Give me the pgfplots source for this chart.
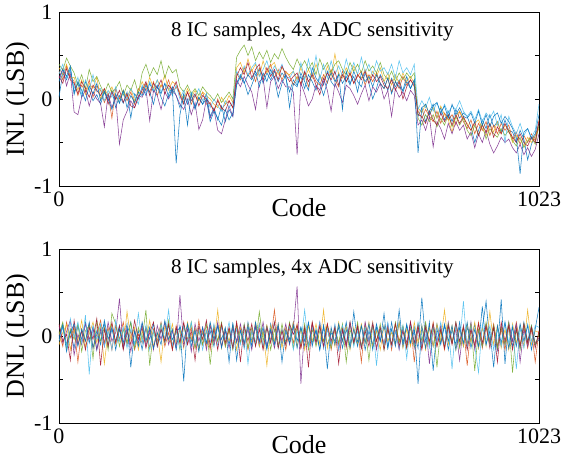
\documentclass[border=0pt]{standalone}
\usepackage{pgfplots}
\pgfplotsset{compat=1.18}
\usepackage{pgfplotstable}
\usepackage{fontspec}
\setmainfont{Liberation Serif}

\definecolor{m1}{RGB}{0,114,189}
\definecolor{m2}{RGB}{217,83,25}
\definecolor{m3}{RGB}{237,177,32}
\definecolor{m4}{RGB}{126,47,142}
\definecolor{m5}{RGB}{119,172,48}
\definecolor{m6}{RGB}{77,190,238}
\definecolor{m7}{RGB}{162,20,47}

% INL of the 8 chips, one row every 8 codes (128 rows)
\pgfplotstableread{
a b c d e f g h
0.02 0.32 0.36 0.24 0.40 0.29 0.26 0.20
0.30 0.22 0.28 0.35 0.33 0.40 0.18 0.34
0.22 0.38 0.40 0.15 0.47 0.24 0.35 0.26
0.35 0.26 0.24 0.30 0.38 0.33 0.22 0.38
0.08 0.20 0.25 -0.15 0.30 0.12 0.18 0.05
0.18 0.04 0.10 -0.18 0.16 0.25 0.06 0.20
0.02 0.16 0.22 0.02 0.28 0.05 0.20 0.10
0.20 0.08 0.05 0.10 0.12 0.22 0.12 -0.02
0.10 0.22 0.18 -0.08 0.34 0.10 0.02 0.15
-0.02 0.02 0.12 0.08 0.20 0.28 0.16 0.06
0.05 0.15 0.25 0.00 0.26 0.08 0.10 0.18
-0.06 0.10 0.00 -0.05 0.15 0.12 0.04 -0.02
0.08 -0.04 0.12 -0.32 0.06 -0.02 0.12 0.09
-0.02 0.06 0.04 0.06 0.18 0.10 -0.06 0.00
0.10 -0.22 0.14 -0.10 0.08 0.02 0.08 -0.12
-0.10 0.12 0.02 0.02 0.12 0.14 0.00 0.06
0.04 0.00 -0.04 -0.52 0.20 -0.04 0.10 -0.05
-0.05 0.10 0.10 -0.24 0.04 0.08 -0.04 0.10
0.08 -0.02 0.02 -0.14 0.16 0.00 0.06 -0.10
-0.22 0.08 0.12 -0.02 0.10 0.12 -0.08 0.04
0.06 -0.06 -0.02 -0.10 0.22 0.04 -0.10 -0.04
0.00 0.12 0.08 0.04 0.06 -0.06 0.02 0.08
0.14 0.06 0.20 0.02 0.30 0.16 0.10 0.04
0.04 0.18 0.10 0.12 0.40 0.06 0.20 0.16
0.18 0.08 0.25 -0.25 0.26 0.20 0.04 0.08
0.08 0.20 0.12 0.10 0.36 0.10 0.18 -0.06
0.16 0.04 0.22 0.04 0.28 0.22 0.12 0.14
0.02 0.16 0.14 -0.12 0.44 0.08 0.22 0.06
-0.08 0.10 0.28 0.08 0.24 0.18 0.06 0.18
0.06 0.22 0.10 0.00 0.38 0.12 0.16 0.02
0.14 0.06 0.20 0.10 0.30 0.04 0.10 0.12
0.04 0.14 0.16 0.04 0.34 0.16 0.20 -0.74
-0.10 0.06 0.08 -0.06 0.14 0.00 0.04 -0.18
0.06 -0.04 0.00 -0.12 0.08 0.10 -0.06 0.04
-0.06 0.08 0.12 0.00 0.16 -0.04 0.08 -0.30
0.04 -0.06 0.02 -0.18 0.06 0.08 -0.02 0.06
-0.12 0.04 0.10 -0.04 0.12 0.02 0.06 -0.10
0.02 -0.02 -0.02 -0.35 0.04 0.12 -0.08 0.02
-0.06 0.08 0.08 -0.24 0.14 -0.02 0.04 -0.06
0.06 -0.06 0.04 0.00 0.08 0.06 0.00 0.00
-0.20 -0.04 0.00 -0.22 0.04 -0.10 -0.06 -0.26
-0.10 -0.14 -0.06 -0.12 -0.02 0.00 -0.14 -0.14
-0.24 0.00 -0.10 -0.36 0.06 -0.08 -0.02 -0.22
-0.08 -0.12 0.02 -0.40 -0.04 -0.14 -0.10 -0.30
-0.26 -0.06 -0.06 -0.24 0.02 -0.02 -0.14 -0.12
-0.12 -0.02 0.04 -0.08 0.08 -0.10 -0.02 -0.24
-0.20 -0.10 -0.04 -0.20 0.00 -0.04 -0.10 -0.16
0.18 0.30 0.36 0.22 0.48 0.32 0.26 0.16
0.28 0.22 0.42 0.14 0.56 0.24 0.36 0.26
0.20 0.36 0.30 0.26 0.62 0.38 0.28 0.18
0.05 0.26 0.46 0.16 0.50 0.28 0.42 0.28
0.16 0.34 0.32 0.08 0.60 0.36 0.24 0.22
0.28 0.20 0.40 -0.12 0.44 0.42 0.34 0.32
0.34 0.36 0.26 0.20 0.54 0.26 0.40 0.14
0.18 0.26 0.44 0.24 0.46 0.34 0.22 0.30
0.30 0.32 0.30 -0.10 0.56 0.44 0.36 0.20
0.22 0.40 0.38 0.20 0.42 0.28 0.26 0.34
0.32 0.24 0.42 0.26 0.52 0.38 0.34 0.24
0.20 0.34 0.28 0.12 0.46 0.30 0.22 0.02
0.30 0.22 0.36 0.22 0.58 0.40 0.38 0.18
0.24 0.32 0.30 0.14 0.48 0.26 0.28 0.28
0.08 0.26 0.28 0.14 0.40 0.24 0.20 -0.10
0.22 0.16 0.32 0.08 0.34 0.32 0.26 0.18
0.16 0.26 0.22 -0.64 0.46 0.18 0.30 0.14
0.26 0.18 0.36 0.18 0.36 0.42 0.16 0.30
0.12 0.30 0.24 0.06 0.44 0.22 0.32 0.20
0.28 0.14 0.34 -0.08 0.34 0.46 0.20 0.10
0.20 0.30 0.24 0.00 0.42 0.26 0.28 0.36
0.10 0.20 0.40 0.16 0.28 0.50 0.16 0.24
0.28 0.16 0.26 0.10 0.46 0.22 0.05 0.18
0.16 0.28 0.22 0.24 0.34 0.40 0.20 0.04
0.32 0.18 0.38 0.10 0.42 0.24 0.30 0.20
0.20 0.34 0.26 -0.14 0.30 0.44 0.22 0.30
0.14 0.22 0.52 0.18 0.40 0.28 0.32 0.20
0.30 0.14 0.28 0.08 0.44 0.38 0.16 0.28
0.18 0.32 0.24 -0.04 0.34 0.26 0.28 -0.12
0.26 0.20 0.36 0.16 0.28 0.46 0.20 0.32
0.16 0.30 0.26 0.12 0.42 0.30 0.30 0.18
0.32 0.18 0.38 0.04 0.32 0.42 0.18 0.26
0.20 0.26 0.28 -0.06 0.40 0.28 0.28 0.08
0.14 0.32 0.24 0.06 0.30 0.48 0.22 0.30
0.30 0.16 0.34 0.16 0.44 0.30 0.32 0.20
0.18 0.28 0.22 -0.02 0.32 0.40 0.18 0.26
0.00 0.20 0.32 0.14 0.38 0.26 0.28 0.14
0.12 0.30 0.26 0.08 0.30 0.44 0.20 0.28
0.28 0.18 0.36 0.18 0.42 0.32 0.26 0.18
0.20 0.12 0.20 0.00 0.28 0.36 0.16 0.12
0.10 0.24 0.30 0.10 0.22 0.28 0.12 0.24
0.24 0.08 0.16 -0.20 0.32 0.40 0.22 0.06
0.14 0.20 0.28 0.12 0.20 0.24 0.10 0.20
0.22 0.12 0.18 0.02 0.30 0.44 0.20 0.14
0.08 0.26 0.30 0.08 0.22 0.30 0.00 0.10
0.20 0.16 0.20 -0.02 0.30 0.36 0.14 0.26
0.12 0.22 0.26 0.10 0.24 0.28 0.22 0.12
0.22 0.14 0.18 0.04 0.30 0.40 0.16 0.22
-0.20 -0.14 -0.10 -0.30 -0.22 -0.12 -0.18 -0.62
-0.10 -0.22 -0.16 -0.24 -0.30 -0.02 -0.20 -0.10
-0.26 -0.12 -0.06 -0.36 -0.18 -0.10 -0.28 -0.06
-0.14 -0.20 -0.18 -0.20 -0.26 0.02 -0.14 -0.18
-0.06 -0.26 -0.10 -0.55 -0.18 -0.14 -0.24 -0.08
-0.22 -0.14 -0.22 -0.26 -0.32 -0.04 -0.30 -0.04
-0.10 -0.28 -0.08 -0.34 -0.22 -0.18 -0.16 -0.16
-0.24 -0.16 -0.18 -0.46 -0.30 -0.06 -0.26 -0.08
-0.14 -0.24 -0.24 -0.28 -0.18 -0.16 -0.18 -0.22
-0.26 -0.18 -0.38 -0.40 -0.32 -0.08 -0.30 -0.06
-0.12 -0.30 -0.20 -0.26 -0.20 -0.12 -0.18 -0.18
-0.22 -0.14 -0.14 -0.36 -0.30 -0.02 -0.28 -0.10
-0.16 -0.26 -0.22 -0.30 -0.22 -0.14 -0.20 -0.20
-0.20 -0.34 -0.28 -0.46 -0.36 -0.20 -0.30 -0.22
-0.32 -0.24 -0.36 -0.38 -0.42 -0.14 -0.36 -0.16
-0.50 -0.40 -0.28 -0.56 -0.30 -0.24 -0.26 -0.28
-0.36 -0.28 -0.24 -0.40 -0.42 -0.12 -0.42 -0.14
-0.24 -0.36 -0.34 -0.50 -0.28 -0.26 -0.30 -0.30
-0.34 -0.26 -0.42 -0.36 -0.46 -0.16 -0.38 -0.18
-0.18 -0.42 -0.28 -0.52 -0.34 -0.22 -0.28 -0.32
-0.32 -0.30 -0.38 -0.62 -0.40 -0.14 -0.44 -0.20
-0.26 -0.40 -0.26 -0.54 -0.44 -0.30 -0.32 -0.16
-0.38 -0.28 -0.40 -0.44 -0.34 -0.18 -0.40 -0.28
-0.24 -0.36 -0.30 -0.50 -0.42 -0.50 -0.28 -0.20
-0.36 -0.30 -0.36 -0.46 -0.36 -0.20 -0.38 -0.26
-0.38 -0.46 -0.50 -0.56 -0.48 -0.32 -0.44 -0.34
-0.50 -0.38 -0.42 -0.62 -0.54 -0.40 -0.50 -0.44
-0.36 -0.52 -0.46 -0.52 -0.44 -0.28 -0.40 -0.86
-0.46 -0.42 -0.54 -0.64 -0.56 -0.42 -0.50 -0.38
-0.70 -0.50 -0.44 -0.56 -0.48 -0.34 -0.54 -0.34
-0.52 -0.40 -0.50 -0.66 -0.44 -0.44 -0.44 -0.46
-0.42 -0.48 -0.42 -0.58 -0.52 -0.36 -0.50 -0.40
-0.28 -0.24 -0.34 -0.40 -0.30 -0.06 -0.26 -0.18
}\inl

% DNL of the same chips
\pgfplotstableread{
a b c d e f g h
0.00 0.05 -0.10 0.12 0.02 -0.06 0.14 -0.03
0.14 -0.12 0.04 -0.08 0.16 0.10 -0.06 0.12
-0.10 0.16 0.13 0.05 -0.14 -0.12 0.02 -0.18
0.06 -0.02 -0.16 0.18 0.08 0.20 -0.28 0.04
-0.14 0.10 0.08 -0.22 -0.04 -0.02 0.18 0.14
0.12 -0.30 -0.06 0.02 0.14 0.16 -0.10 -0.12
-0.04 0.08 0.18 -0.10 -0.18 -0.08 0.06 0.08
0.16 -0.06 -0.12 0.14 0.06 0.24 -0.16 -0.06
-0.08 0.14 0.02 -0.04 0.12 -0.44 0.10 0.16
0.10 -0.14 0.16 0.10 -0.26 0.12 -0.04 -0.14
-0.16 0.02 -0.08 -0.16 0.18 -0.04 0.20 0.06
0.04 0.18 0.12 0.08 -0.06 0.14 -0.34 -0.10
0.14 -0.08 -0.32 -0.12 0.10 -0.12 0.08 0.18
-0.12 0.10 0.06 0.16 -0.16 0.06 -0.12 -0.04
0.08 -0.16 0.14 -0.06 0.26 -0.16 0.16 0.10
-0.06 0.12 -0.10 0.04 0.14 0.18 -0.08 -0.16
0.12 -0.04 0.08 0.43 -0.12 -0.06 0.12 0.08
-0.14 0.16 -0.14 -0.14 0.08 0.10 -0.16 -0.08
0.02 -0.10 0.28 0.10 -0.08 -0.14 0.06 0.14
0.16 0.06 -0.04 -0.18 0.16 0.08 -0.10 -0.36
-0.10 -0.16 0.10 0.06 -0.14 -0.10 0.18 0.06
0.06 0.02 -0.16 -0.08 0.10 0.26 -0.04 -0.12
-0.16 -0.08 0.06 0.14 -0.04 -0.08 0.10 0.16
0.10 0.10 -0.08 -0.12 0.30 0.12 -0.14 -0.06
-0.04 -0.14 0.18 0.08 -0.34 -0.16 0.04 0.10
0.14 0.08 -0.12 -0.16 0.06 0.06 0.16 -0.14
-0.12 -0.06 0.04 0.12 -0.10 -0.10 -0.12 0.04
0.08 0.16 -0.30 -0.04 0.14 0.14 0.08 -0.10
-0.08 -0.12 0.12 0.16 -0.06 -0.04 -0.06 0.18
0.12 0.04 -0.06 -0.10 0.18 0.30 0.14 -0.04
-0.04 -0.16 0.14 0.06 -0.12 -0.12 -0.16 0.08
0.04 0.12 -0.10 -0.14 0.08 0.08 0.10 -0.16
0.10 -0.08 0.08 0.47 -0.16 -0.14 -0.08 0.12
-0.52 0.14 -0.14 -0.12 0.12 0.12 0.16 -0.06
0.14 -0.04 0.16 0.08 -0.08 -0.06 -0.10 0.14
-0.06 0.10 -0.04 -0.18 0.16 0.16 0.06 -0.12
0.08 -0.14 0.10 0.14 -0.14 -0.10 -0.28 0.06
-0.14 0.18 -0.16 -0.06 0.06 0.10 0.12 -0.18
0.04 -0.10 0.06 0.10 -0.10 -0.16 -0.04 0.10
-0.10 0.06 -0.12 -0.16 0.14 0.06 0.18 -0.08
0.06 -0.16 0.14 0.12 -0.33 -0.08 -0.12 0.16
-0.12 0.12 -0.08 -0.08 0.10 0.14 0.08 -0.04
0.12 -0.06 0.30 0.16 -0.06 -0.12 -0.16 0.12
-0.04 0.14 -0.14 -0.12 0.16 0.10 0.14 -0.14
0.10 -0.12 0.08 0.06 -0.12 -0.04 -0.08 0.08
-0.30 0.08 -0.06 -0.14 0.08 0.16 0.10 -0.10
0.14 -0.14 0.12 0.10 -0.16 -0.14 -0.14 0.14
-0.08 0.16 -0.16 -0.06 0.12 0.08 0.16 -0.28
0.08 -0.08 0.10 0.14 -0.08 -0.10 -0.30 0.06
-0.14 0.10 -0.10 -0.10 0.14 0.12 0.12 -0.08
0.16 -0.16 0.14 0.08 -0.14 -0.32 -0.06 0.12
-0.06 0.06 -0.08 -0.16 0.10 0.06 0.14 -0.12
0.10 -0.10 0.16 0.12 -0.10 -0.08 -0.12 0.16
-0.12 0.14 -0.12 -0.08 0.28 0.14 0.08 -0.06
0.06 -0.14 0.06 0.16 -0.06 -0.12 -0.16 0.10
-0.16 0.12 -0.34 -0.12 0.12 0.10 0.10 -0.14
0.14 -0.06 0.12 0.06 -0.16 -0.06 -0.08 0.08
-0.08 0.30 -0.06 -0.14 0.08 0.16 0.16 -0.10
0.12 -0.12 0.14 0.10 -0.12 -0.14 -0.14 0.14
-0.10 0.08 -0.14 -0.06 0.14 0.08 0.06 -0.30
0.08 -0.16 0.10 0.14 -0.08 -0.10 -0.10 0.06
-0.04 0.10 -0.08 -0.10 0.16 0.12 0.14 -0.08
0.16 -0.08 0.16 0.08 -0.14 -0.16 0.02 0.12
-0.06 0.14 -0.12 0.57 0.10 0.06 0.12 -0.14
0.10 -0.14 0.08 -0.55 -0.10 -0.08 -0.14 0.10
-0.12 0.06 -0.16 0.10 0.14 0.30 0.10 -0.06
0.14 -0.10 0.12 -0.12 -0.16 -0.12 -0.36 0.16
-0.08 0.16 -0.06 0.14 0.08 0.10 0.16 -0.12
0.06 -0.04 0.14 -0.08 -0.12 -0.06 -0.08 0.08
-0.16 0.10 -0.10 0.16 0.06 0.16 0.12 -0.16
0.12 -0.06 0.30 -0.14 -0.06 -0.14 -0.12 0.12
-0.10 0.14 -0.14 0.08 0.12 0.08 0.14 -0.38
0.04 -0.16 0.08 -0.10 -0.14 -0.10 -0.06 0.10
-0.06 0.08 -0.12 0.12 0.10 0.14 0.10 -0.10
0.10 -0.10 0.16 -0.16 -0.08 -0.16 -0.32 0.14
-0.14 0.12 -0.06 0.06 0.14 0.12 0.08 -0.06
0.08 -0.14 0.12 -0.12 -0.30 -0.08 -0.10 0.16
-0.12 0.16 -0.16 0.14 0.08 0.16 0.16 -0.14
0.28 -0.08 0.10 -0.08 -0.10 -0.12 -0.08 0.08
-0.08 0.10 -0.10 0.10 0.16 0.06 0.12 -0.12
0.12 -0.30 0.14 -0.14 -0.12 -0.14 -0.14 0.12
-0.16 0.14 -0.08 0.16 0.10 0.10 0.06 -0.08
0.06 -0.06 0.16 -0.06 -0.28 -0.06 -0.12 0.14
-0.10 0.16 -0.12 0.12 0.12 0.14 0.14 -0.16
0.14 -0.14 0.06 -0.16 -0.06 -0.34 -0.06 0.10
-0.06 0.08 -0.16 0.08 0.14 0.08 0.10 -0.06
0.26 -0.10 0.12 -0.10 -0.16 -0.10 -0.16 0.12
-0.14 0.12 -0.06 0.14 0.08 0.16 0.08 -0.14
0.08 -0.16 0.04 -0.12 -0.10 -0.12 -0.10 0.16
-0.12 0.14 -0.10 0.06 0.16 0.06 0.14 -0.10
0.16 -0.06 0.16 -0.16 -0.08 -0.14 -0.12 0.30
-0.08 0.10 -0.14 0.10 0.12 0.12 0.06 -0.12
0.12 -0.12 0.08 -0.08 -0.14 -0.26 -0.14 0.14
-0.10 0.16 -0.12 0.16 0.10 0.14 0.16 -0.08
0.06 -0.30 0.16 -0.14 -0.12 -0.10 -0.08 0.10
-0.14 0.12 -0.08 0.08 0.14 0.16 0.12 -0.55
0.44 -0.14 0.12 -0.10 -0.06 -0.12 -0.16 0.12
-0.06 0.08 -0.16 0.14 0.16 0.08 0.10 -0.14
0.10 -0.10 0.10 -0.32 -0.10 -0.14 -0.06 0.16
-0.12 0.16 -0.12 0.10 0.12 0.12 0.14 -0.40
0.14 -0.12 0.14 -0.06 -0.36 -0.06 -0.12 0.08
-0.08 0.06 -0.06 0.12 0.08 0.16 0.08 -0.10
0.12 -0.16 0.30 -0.12 -0.12 -0.10 -0.14 0.14
-0.16 0.10 -0.10 0.16 0.14 0.10 0.12 -0.06
0.08 -0.08 0.12 -0.08 -0.08 -0.38 -0.10 0.12
-0.10 0.14 -0.16 0.08 0.16 0.14 0.16 -0.16
0.16 -0.12 0.08 -0.28 -0.14 -0.08 -0.06 0.10
-0.12 0.12 -0.12 0.12 0.10 0.40 0.10 -0.08
0.10 -0.34 0.14 -0.10 -0.10 -0.14 -0.16 0.16
-0.06 0.08 -0.08 0.16 0.14 0.10 0.08 -0.14
0.14 -0.10 0.16 -0.16 -0.40 -0.12 -0.12 0.08
-0.14 0.16 -0.14 0.06 0.08 -0.42 0.14 -0.12
0.08 -0.14 0.10 -0.12 -0.12 0.14 -0.08 0.34
0.40 0.10 -0.12 0.14 0.16 -0.10 0.12 -0.10
-0.10 -0.08 0.28 -0.08 -0.08 0.12 -0.14 0.06
0.12 0.14 -0.10 0.10 0.12 -0.16 0.10 -0.36
-0.16 -0.12 0.12 -0.16 -0.14 0.08 -0.30 0.12
0.42 0.08 -0.14 0.12 0.10 -0.12 0.16 -0.08
-0.32 -0.16 0.08 -0.10 -0.10 0.16 -0.06 0.16
0.14 0.12 -0.16 0.16 0.16 -0.08 0.12 -0.14
-0.12 -0.06 0.14 -0.06 -0.42 0.12 -0.16 0.10
0.10 0.16 -0.08 0.14 0.08 -0.38 0.08 -0.12
-0.14 -0.10 0.12 -0.30 -0.16 0.10 -0.12 0.14
0.16 0.10 -0.12 0.08 0.14 -0.14 0.14 -0.06
-0.06 -0.14 0.30 -0.12 -0.08 0.14 -0.08 0.12
0.12 0.08 -0.10 0.10 0.12 -0.06 0.10 -0.16
-0.10 -0.30 0.06 -0.08 -0.10 0.12 -0.14 0.08
-0.04 0.06 0.04 -0.02 0.02 0.10 0.06 0.33
}\dnl

\pgfplotsset{
  adcpanel/.style={
    scale only axis,
    width=480pt, height=174pt,
    xmin=0, xmax=1023, ymin=-1, ymax=1,
    xtick={0,1023}, xticklabels={0,1023},
    ytick={-1,-0.5,0,0.5,1}, yticklabels={-1,,0,,1},
    tick align=inside, tick pos=both,
    major tick length=4pt,
    axis line style={line width=0.8pt},
    every tick/.style={black, line width=0.6pt},
    tick label style={font=\fontsize{22}{22}\selectfont},
    yticklabel style={xshift=-3pt},
    xticklabel style={yshift=-2pt},
    label style={font=\fontsize{26}{26}\selectfont},
    xlabel style={at={(axis description cs:0.5,0)}, anchor=north, yshift=-9pt},
    ylabel style={at={(axis description cs:0,0.5)}, anchor=south, yshift=26pt},
    xlabel={Code},
    every axis plot/.append style={line width=0.55pt, opacity=0.9},
  },
}

\begin{document}
\begin{tikzpicture}
\begin{axis}[adcpanel, at={(0,0)}, ylabel={INL (LSB)}]
\foreach \s/\c in {a/m1,b/m2,c/m3,d/m4,e/m5,f/m6,g/m7,h/m1}{
  \edef\tmp{\noexpand\addplot[\c] table[x expr=\noexpand\coordindex*1023/127, y=\s] {\noexpand\inl};}
  \tmp
}
\node[font=\fontsize{21}{21}\selectfont, anchor=center] at (axis cs:540,0.78) {8 IC samples, 4x ADC sensitivity};
\end{axis}
\begin{axis}[adcpanel, at={(0,-237pt)}, ylabel={DNL (LSB)}]
\foreach \s/\c in {a/m1,b/m2,c/m3,d/m4,e/m5,f/m6,g/m7,h/m1}{
  \edef\tmp{\noexpand\addplot[\c] table[x expr=\noexpand\coordindex*1023/127, y=\s] {\noexpand\dnl};}
  \tmp
}
\node[font=\fontsize{21}{21}\selectfont, anchor=center] at (axis cs:540,0.78) {8 IC samples, 4x ADC sensitivity};
\end{axis}
\pgfresetboundingbox
\path[use as bounding box] (-59pt,-273pt) rectangle (504pt,186pt);
\end{tikzpicture}
\end{document}
